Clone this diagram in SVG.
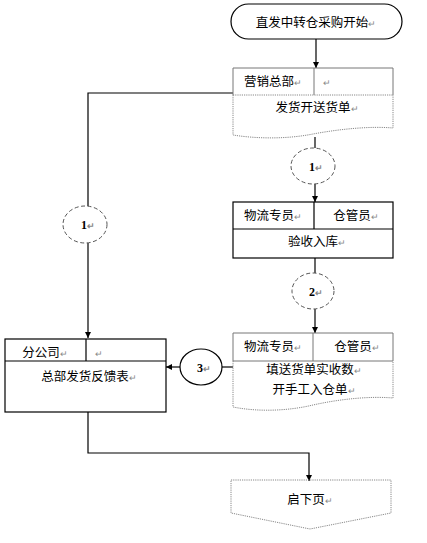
<svg xmlns="http://www.w3.org/2000/svg" width="427" height="543" viewBox="0 0 427 543">
<style>
text{font-family:"Noto Sans CJK SC","Liberation Sans",sans-serif;font-size:12.5px;fill:#000;text-anchor:middle}
.n{font-family:"Liberation Serif",serif;font-weight:bold;font-size:12px}
.r{fill:#888;font-size:9px}
.s{fill:#fff;stroke:#000;stroke-width:1.2}
.g{fill:none;stroke:#777;stroke-width:1}
.d{fill:none;stroke:#888;stroke-width:1;stroke-dasharray:1.2 1}
.dc{fill:#fff;stroke:#555;stroke-width:1;stroke-dasharray:4 2.5}
.l{fill:none;stroke:#000;stroke-width:1.2}
</style>
<defs>
<marker id="a" viewBox="0 0 10 10" refX="10" refY="5" markerWidth="6" markerHeight="6" markerUnits="userSpaceOnUse" orient="auto">
<path d="M0,0 L10,5 L0,10 Z" fill="#000"/>
</marker>
</defs>
<g id="connectors">
<path class="l" d="M316,39 V68" marker-end="url(#a)"/>
<path class="l" d="M233,93 H88 V206"/>
<path class="l" d="M88,243 V338" marker-end="url(#a)"/>
<path class="l" d="M315,137 V148"/>
<path class="l" d="M315,184 V202" marker-end="url(#a)"/>
<path class="l" d="M315,258 V273"/>
<path class="l" d="M315,309 V333" marker-end="url(#a)"/>
<path class="l" d="M233,367 H222"/>
<path class="l" d="M180,367 H166" marker-end="url(#a)"/>
<path class="l" d="M88,412 V453 H309 V481" marker-end="url(#a)"/>
</g>
<g id="start">
<rect x="231" y="4" width="171" height="35" rx="17.5" class="s"/>
<text x="316" y="26.5">直发中转仓采购开始<tspan class="r">↵</tspan></text>
</g>
<g id="hq">
<path class="d" d="M233,95 V135 C258,139 288,139 313,134 C340,129 370,126 393,128 V95"/>
<path class="g" d="M233,95 V68 H393 V95 M314,68 V95"/>
<path class="d" d="M233,95 H393"/>
<text x="273" y="86">营销总部<tspan class="r">↵</tspan></text>
<text x="327" y="86"><tspan class="r">↵</tspan></text>
<text x="317" y="112">发货开送货单<tspan class="r">↵</tspan></text>
</g>
<g id="c1a">
<ellipse cx="313" cy="166" rx="22" ry="18" class="dc"/>
<text x="316" y="170.5" class="n">1<tspan class="r">↵</tspan></text>
</g>
<g id="receive">
<rect x="233" y="202" width="160" height="56" class="s"/>
<path class="l" d="M233,229 H393 M314,202 V229"/>
<text x="273" y="220">物流专员<tspan class="r">↵</tspan></text>
<text x="356" y="220">仓管员<tspan class="r">↵</tspan></text>
<text x="317" y="246">验收入库<tspan class="r">↵</tspan></text>
</g>
<g id="c2">
<ellipse cx="313" cy="291" rx="21" ry="18" class="dc"/>
<text x="316" y="295.5" class="n">2<tspan class="r">↵</tspan></text>
</g>
<g id="fill">
<path class="d" d="M233,361 V407 C258,412 288,411 313,405 C340,399 370,396 393,398 V361"/>
<path class="g" d="M233,361 V333 H393 V361 H233 M313,333 V361"/>
<text x="273" y="351">物流专员<tspan class="r">↵</tspan></text>
<text x="357" y="351">仓管员<tspan class="r">↵</tspan></text>
<text x="314" y="374">填送货单实收数<tspan class="r">↵</tspan></text>
<text x="314" y="394">开手工入仓单<tspan class="r">↵</tspan></text>
</g>
<g id="c3">
<ellipse cx="201" cy="367" rx="21" ry="18" class="s"/>
<text x="204" y="371.5" class="n">3<tspan class="r">↵</tspan></text>
</g>
<g id="c1b">
<ellipse cx="85" cy="224.5" rx="22" ry="18.5" class="dc"/>
<text x="88" y="229" class="n">1<tspan class="r">↵</tspan></text>
</g>
<g id="branch">
<rect x="5" y="339" width="161" height="73" class="s"/>
<path class="l" d="M5,361 H166 M86,339 V361"/>
<text x="45" y="357">分公司<tspan class="r">↵</tspan></text>
<text x="99" y="357"><tspan class="r">↵</tspan></text>
<text x="89" y="381">总部发货反馈表<tspan class="r">↵</tspan></text>
</g>
<g id="next">
<path class="d" d="M231,480 H391 V513 L310,529 L231,513 Z" fill="#fff"/>
<text x="310" y="504">启下页<tspan class="r">↵</tspan></text>
</g>
</svg>
